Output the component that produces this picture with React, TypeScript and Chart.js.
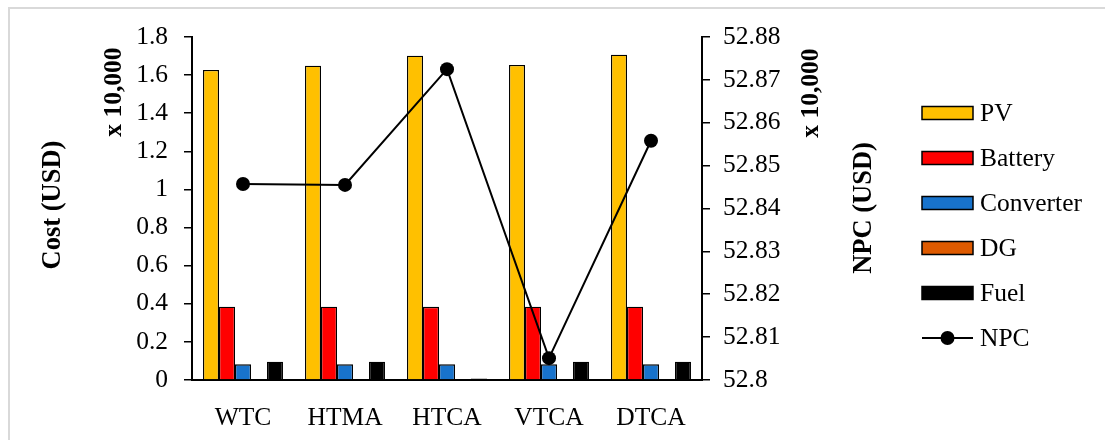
import React, { useEffect, useRef } from "react";
import { Chart, registerables } from "chart.js";

Chart.register(...registerables);

const categories = ["WTC", "HTMA", "HTCA", "VTCA", "DTCA"];
const pvCost = [1.627, 1.649, 1.702, 1.653, 1.707];
const batteryCost = [0.385, 0.385, 0.384, 0.385, 0.385];
const converterCost = [0.082, 0.082, 0.082, 0.082, 0.082];
const dgCost = [0, 0, 0, 0, 0];
const fuelCost = [0.096, 0.096, 0.008, 0.096, 0.096];
const npcValues = [52.8457, 52.8455, 52.8725, 52.8051, 52.8558];

const costAxis = { min: 0, max: 1.8, step: 0.2 };
const npcAxis = { min: 52.8, max: 52.88, step: 0.01 };

const leftTitle = "Cost (USD)";
const rightTitle = "NPC (USD)";
const unitLabel = "x 10,000";

const FONT = "'Liberation Serif', 'Times New Roman', serif";
const FS = 25.5;

function vText(ctx: CanvasRenderingContext2D, text: string, x: number, y: number) {
  ctx.save();
  ctx.translate(x, y);
  ctx.rotate(-Math.PI / 2);
  ctx.textAlign = "center";
  ctx.textBaseline = "middle";
  ctx.fillText(text, 0, 0);
  ctx.restore();
}

const decorPlugin = {
  id: "decor",
  beforeDraw(chart: any) {
    const ctx = chart.ctx as CanvasRenderingContext2D;
    ctx.save();
    ctx.fillStyle = "#ffffff";
    ctx.fillRect(0, 0, chart.width, chart.height);
    ctx.strokeStyle = "#d9d9d9";
    ctx.lineWidth = 2;
    ctx.strokeRect(9, 8, chart.width + 20, chart.height + 20);
    ctx.restore();
  },
  afterDraw(chart: any) {
    const ctx = chart.ctx as CanvasRenderingContext2D;
    ctx.save();
    ctx.fillStyle = "#000";
    ctx.font = `bold 26.5px ${FONT}`;
    vText(ctx, leftTitle, 53, 205);
    vText(ctx, rightTitle, 864, 208);
    ctx.font = `bold ${FS}px ${FONT}`;
    vText(ctx, unitLabel, 114, 92);
    vText(ctx, unitLabel, 811, 93);

    // legend
    const bx = 922;
    const bw = 51;
    const bh = 13;
    const tx = 980;
    const y0 = 113;
    const gap = 45;
    ctx.font = `${FS}px ${FONT}`;
    ctx.textAlign = "left";
    ctx.textBaseline = "middle";
    chart.data.datasets.forEach((ds: any, i: number) => {
      const cy = y0 + i * gap;
      if (ds.type === "line") {
        ctx.strokeStyle = ds.borderColor;
        ctx.lineWidth = 2;
        ctx.beginPath();
        ctx.moveTo(bx, cy);
        ctx.lineTo(bx + bw, cy);
        ctx.stroke();
        ctx.fillStyle = ds.pointBackgroundColor;
        ctx.beginPath();
        ctx.arc(bx + bw / 2, cy, 7, 0, Math.PI * 2);
        ctx.fill();
      } else {
        ctx.fillStyle = ds.backgroundColor;
        ctx.fillRect(bx, cy - bh / 2, bw, bh);
        ctx.strokeStyle = "#000";
        ctx.lineWidth = 1.5;
        ctx.strokeRect(bx, cy - bh / 2, bw, bh);
      }
      ctx.fillStyle = "#000";
      ctx.fillText(ds.label, tx, cy + 1);
    });
    ctx.restore();
  },
};

const fmt = (v: any) => String(Number(Number(v).toFixed(3)));

export default function App() {
  const ref = useRef<HTMLCanvasElement>(null);

  useEffect(() => {
    document.body.style.margin = "0";
    const barCommon = {
      type: "bar" as const,
      yAxisID: "y",
      borderColor: "#000000",
      borderWidth: 1.3,
      barPercentage: 1,
      categoryPercentage: 0.784,
      order: 1,
    };
    const chart = new Chart(ref.current as HTMLCanvasElement, {
      type: "bar",
      data: {
        labels: categories,
        datasets: [
          { ...barCommon, label: "PV", data: pvCost, backgroundColor: "#FFC000" },
          { ...barCommon, label: "Battery", data: batteryCost, backgroundColor: "#FF0000" },
          { ...barCommon, label: "Converter", data: converterCost, backgroundColor: "#1873CC" },
          { ...barCommon, label: "DG", data: dgCost, backgroundColor: "#DE5A00" },
          { ...barCommon, label: "Fuel", data: fuelCost, backgroundColor: "#000000" },
          {
            type: "line",
            label: "NPC",
            data: npcValues,
            yAxisID: "y2",
            borderColor: "#000000",
            backgroundColor: "#000000",
            borderWidth: 2,
            pointRadius: 7,
            pointBackgroundColor: "#000000",
            pointBorderColor: "#000000",
            pointBorderWidth: 0,
            tension: 0,
            order: 0,
          } as any,
        ],
      },
      options: {
        responsive: false,
        animation: false,
        devicePixelRatio: 1,
        layout: { padding: { top: 37, left: 0, right: 0, bottom: 0 } },
        plugins: {
          legend: { display: false },
          tooltip: { enabled: false },
        },
        scales: {
          x: {
            type: "category",
            offset: true,
            grid: { display: false },
            border: { display: true, color: "#000", width: 2 },
            ticks: {
              color: "#000",
              font: { family: FONT, size: FS },
              padding: 15,
              maxRotation: 0,
              autoSkip: false,
            },
            afterFit(s: any) {
              s.height = 60;
              s.paddingLeft = 0;
              s.paddingRight = 0;
            },
          },
          y: {
            position: "left",
            min: costAxis.min,
            max: costAxis.max,
            ticks: {
              stepSize: costAxis.step,
              color: "#000",
              font: { family: FONT, size: FS },
              padding: 16,
              callback: fmt,
            },
            grid: {
              drawOnChartArea: false,
              drawTicks: true,
              tickLength: 8,
              color: "#000",
              lineWidth: 1.5,
            },
            border: { display: true, color: "#000", width: 2 },
            afterFit(s: any) {
              s.width = 192;
              s.paddingTop = 0;
              s.paddingBottom = 0;
            },
          },
          y2: {
            position: "right",
            min: npcAxis.min,
            max: npcAxis.max,
            ticks: {
              stepSize: npcAxis.step,
              color: "#000",
              font: { family: FONT, size: FS },
              padding: 13,
              callback: fmt,
            },
            grid: {
              drawOnChartArea: false,
              drawTicks: true,
              tickLength: 8,
              color: "#000",
              lineWidth: 1.5,
            },
            border: { display: true, color: "#000", width: 2 },
            afterFit(s: any) {
              s.width = 403;
              s.paddingTop = 0;
              s.paddingBottom = 0;
            },
          },
        },
      } as any,
      plugins: [decorPlugin],
    });
    return () => chart.destroy();
  }, []);

  return (
    <div style={{ position: "absolute", left: 0, top: 0, width: 1105, height: 440 }}>
      <canvas ref={ref} width={1105} height={440} style={{ display: "block" }} />
    </div>
  );
}
